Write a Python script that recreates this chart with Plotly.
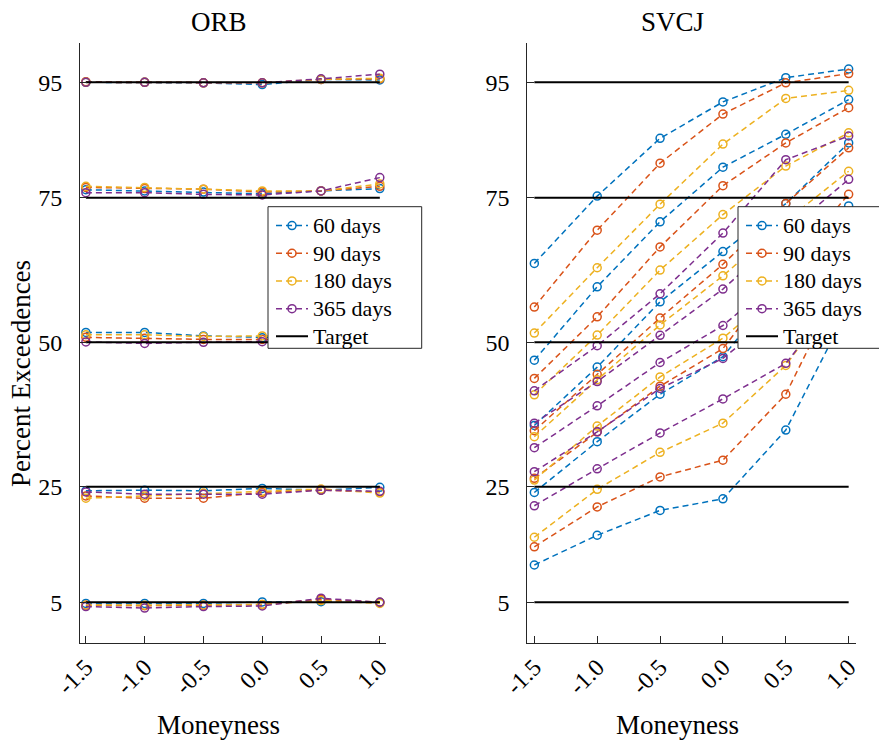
import plotly.graph_objects as go

# ---------------- data ----------------
moneyness = [-1.5, -1.0, -0.5, 0.0, 0.5, 1.0]
moneyness_labels = ["-1.5", "-1.0", "-0.5", "0.0", "0.5", "1.0"]
target_levels = [5, 25, 50, 75, 95]
maturity_names = ["60 days", "90 days", "180 days", "365 days"]
colors = ["#0072BD", "#D95319", "#EDB120", "#7E2F8E"]

# ORB: rows are the 5%, 25%, 50%, 75%, 95% levels
orb_60 = [
    [4.8, 4.8, 4.8, 5.05, 5.1, 5.0],
    [24.3, 24.4, 24.3, 24.7, 24.4, 24.9],
    [51.7, 51.7, 51.1, 50.8, 50.6, 50.7],
    [76.4, 76.2, 76.0, 75.7, 76.2, 76.6],
    [95.0, 95.0, 94.9, 94.6, 95.5, 95.4],
]
orb_90 = [
    [4.5, 4.4, 4.5, 4.6, 5.5, 5.0],
    [23.4, 23.0, 23.0, 24.0, 24.4, 24.1],
    [50.85, 50.7, 50.5, 50.5, 50.4, 50.5],
    [76.8, 76.6, 76.5, 76.0, 76.2, 77.0],
    [95.1, 95.0, 94.9, 94.9, 95.5, 95.6],
]
orb_180 = [
    [4.5, 4.5, 4.5, 4.6, 5.3, 4.8],
    [23.0, 23.4, 23.9, 24.2, 24.6, 23.9],
    [51.3, 51.3, 51.0, 51.1, 50.8, 50.8],
    [77.0, 76.8, 76.5, 76.2, 76.2, 77.4],
    [95.0, 95.0, 94.9, 94.9, 95.5, 95.7],
]
orb_365 = [
    [4.25, 4.0, 4.25, 4.35, 5.7, 5.0],
    [24.1, 23.7, 23.7, 23.7, 24.4, 24.2],
    [50.05, 49.8, 50.0, 50.1, 50.2, 50.4],
    [75.9, 75.9, 75.6, 75.5, 76.2, 78.5],
    [95.0, 95.0, 94.9, 94.9, 95.6, 96.4],
]

# SVCJ
svcj_60 = [
    [11.45, 16.6, 20.9, 22.9, 34.8, 56.0],
    [24.0, 32.8, 41.0, 47.5, 61.0, 73.6],
    [35.6, 45.7, 57.0, 65.7, 74.0, 84.5],
    [46.9, 59.6, 70.85, 80.3, 86.0, 92.0],
    [63.65, 75.3, 85.3, 91.6, 95.8, 97.3],
]
svcj_90 = [
    [14.6, 21.5, 26.7, 29.6, 41.0, 63.0],
    [26.45, 34.5, 42.4, 48.9, 63.0, 75.6],
    [34.7, 44.45, 54.2, 63.5, 74.0, 83.65],
    [43.75, 54.4, 66.5, 77.1, 84.5, 90.6],
    [56.1, 69.4, 81.0, 89.5, 94.9, 96.5],
]
svcj_180 = [
    [16.25, 24.55, 30.95, 36.0, 46.0, 61.0],
    [26.15, 35.5, 44.0, 50.7, 60.0, 70.0],
    [33.65, 43.5, 53.0, 61.5, 71.0, 79.6],
    [40.9, 51.25, 62.5, 72.1, 80.5, 86.25],
    [51.6, 62.9, 73.9, 84.3, 92.2, 93.6],
]
svcj_365 = [
    [21.7, 28.1, 34.3, 40.2, 46.35, 60.0],
    [27.6, 34.5, 42.0, 47.2, 56.0, 66.0],
    [31.75, 39.0, 46.5, 52.9, 62.0, 72.0],
    [36.0, 43.2, 51.2, 59.2, 69.0, 78.2],
    [41.6, 49.4, 58.4, 68.9, 81.6, 85.7],
]

# ---------------- figure ----------------
W, H = 879, 740
FONT = "Liberation Serif"
AXC = "#262626"


def fx(p):
    return p / W


def fy(p):
    return 1 - p / H


def gapped(rows):
    xs, ys = [], []
    for row in rows:
        xs += moneyness + [None]
        ys += list(row) + [None]
    return xs, ys


def target_xy():
    xs, ys = [], []
    for lv in target_levels:
        xs += [moneyness[0], moneyness[-1], None]
        ys += [lv, lv, None]
    return xs, ys


fig = go.Figure()

panels = [
    ("x", "y", "legend", [orb_60, orb_90, orb_180, orb_365]),
    ("x2", "y2", "legend2", [svcj_60, svcj_90, svcj_180, svcj_365]),
]

for xa, ya, lg, series in panels:
    for name, col, rows in zip(maturity_names, colors, series):
        xs, ys = gapped(rows)
        fig.add_trace(go.Scatter(
            x=xs, y=ys, xaxis=xa, yaxis=ya, legend=lg,
            name='<span style="font-size:22px">%s</span>' % name,
            mode="lines+markers", connectgaps=False,
            line=dict(color=col, width=1.5, dash="6px,4px"),
            marker=dict(symbol="circle-open", size=8, color=col,
                        line=dict(color=col, width=1.5)),
            cliponaxis=False,
        ))
    tx, ty = target_xy()
    fig.add_trace(go.Scatter(
        x=tx, y=ty, xaxis=xa, yaxis=ya, legend=lg,
        name='<span style="font-size:22px">Target</span>',
        mode="lines", connectgaps=False,
        line=dict(color="black", width=2),
    ))

axis_common = dict(
    showline=True, linecolor=AXC, linewidth=1, mirror=False,
    ticks="inside", ticklen=7, tickwidth=1, tickcolor=AXC,
    showgrid=False, zeroline=False,
    tickfont=dict(family=FONT, size=24, color="black"),
)

xcommon = dict(axis_common, tickmode="array", tickvals=moneyness,
               ticktext=moneyness_labels, tickangle=-45)
ycommon = dict(axis_common, tickmode="array", tickvals=target_levels,
               ticktext=[str(v) for v in target_levels], range=[-2, 101.85],
               ticklabelstandoff=12,
               domain=[fy(642.7), fy(42.7)])

legend_common = dict(
    xanchor="left", yanchor="top", bgcolor="rgba(0,0,0,0)", borderwidth=0,
    font=dict(family=FONT, size=19, color="black"), itemwidth=32,
    y=fy(206.7),
)

fig.update_layout(
    width=W, height=H,
    margin=dict(l=0, r=0, t=0, b=0, autoexpand=False),
    paper_bgcolor="white", plot_bgcolor="white",
    xaxis=dict(xcommon, domain=[fx(80), fx(385.7)], range=[-1.55, 1.05], anchor="y"),
    xaxis2=dict(xcommon, domain=[fx(527.3), fx(855.7)], range=[-1.556, 1.056], anchor="y2"),
    yaxis=dict(ycommon, anchor="x"),
    yaxis2=dict(ycommon, anchor="x2"),
    legend=dict(legend_common, x=fx(268 + 3)),
    legend2=dict(legend_common, x=fx(738 + 3)),
    showlegend=True,
)

# legend frames (white boxes with dark border, as in the reference)
for x0, x1 in [(268, 421.7), (738, 900)]:
    fig.add_shape(type="rect", xref="paper", yref="paper",
                  x0=fx(x0), x1=fx(x1), y0=fy(348.3), y1=fy(206.7),
                  fillcolor="white", line=dict(color=AXC, width=1), layer="above")

ann_font = dict(family=FONT, size=27, color="black")
annotations = [
    dict(text="ORB", x=fx(219), y=fy(22.5)),
    dict(text="SVCJ", x=fx(672), y=fy(22.5)),
    dict(text="Moneyness", x=fx(218), y=fy(724.5)),
    dict(text="Moneyness", x=fx(677), y=fy(724.5)),
    dict(text="Percent Exceedences", x=fx(21), y=fy(374), textangle=-90),
]
for a in annotations:
    fig.add_annotation(xref="paper", yref="paper", showarrow=False,
                       xanchor="center", yanchor="middle", font=ann_font, **a)

fig.write_html("out.html")
